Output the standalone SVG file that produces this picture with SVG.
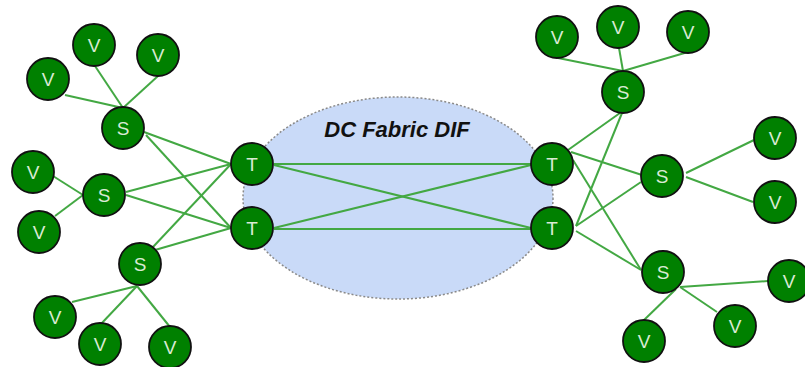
<svg xmlns="http://www.w3.org/2000/svg" width="805" height="367" viewBox="0 0 805 367">
  <style>
    .node circle { fill: #008000; stroke: #111; stroke-width: 1.8; }
    .node text { fill: #d9ead3; font-family: "Liberation Sans", Arial, sans-serif; font-size: 19px; text-anchor: middle; dominant-baseline: central; }
    #links line { stroke: #43a843; stroke-width: 2; }
    .dif { fill: #c9daf8; stroke: #8a8a8a; stroke-width: 1.5; stroke-dasharray: 2 2; }
    .dif-label { font-family: "Liberation Sans", Arial, sans-serif; font-size: 22px; font-weight: bold; font-style: italic; fill: #111; text-anchor: middle; }
  </style>
  <rect width="805" height="367" fill="#ffffff"/>

  <g id="dc-fabric-dif">
    <ellipse class="dif" cx="398" cy="198" rx="155" ry="101"/>
    <text class="dif-label" x="397" y="137">DC Fabric DIF</text>
  </g>

  <g id="links">
    <!-- left servers to VMs -->
    <line x1="65" y1="95" x2="123" y2="108"/>
    <line x1="95" y1="66" x2="123" y2="108"/>
    <line x1="158" y1="76" x2="123" y2="108"/>
    <line x1="53" y1="176" x2="83" y2="195"/>
    <line x1="55" y1="216" x2="83" y2="195"/>
    <line x1="72" y1="302" x2="137" y2="286"/>
    <line x1="100" y1="325" x2="137" y2="286"/>
    <line x1="170" y1="327" x2="137" y2="286"/>
    <!-- left servers to ToRs -->
    <line x1="144" y1="132" x2="231" y2="164"/>
    <line x1="146" y1="135" x2="231" y2="228"/>
    <line x1="126" y1="192" x2="231" y2="164"/>
    <line x1="126" y1="195" x2="231" y2="228"/>
    <line x1="155" y1="250" x2="231" y2="228"/>
    <line x1="153" y1="247" x2="231" y2="164"/>
    <!-- fabric -->
    <line x1="274" y1="164" x2="531" y2="164"/>
    <line x1="274" y1="165" x2="531" y2="228"/>
    <line x1="274" y1="228" x2="531" y2="165"/>
    <line x1="274" y1="229" x2="531" y2="229"/>
    <!-- right ToRs to servers -->
    <line x1="620" y1="113" x2="568" y2="150"/>
    <line x1="622" y1="113" x2="576" y2="226"/>
    <line x1="571" y1="152" x2="642" y2="175"/>
    <line x1="573" y1="160" x2="641" y2="270"/>
    <line x1="576" y1="226" x2="641" y2="182"/>
    <line x1="576" y1="231" x2="641" y2="270"/>
    <!-- right servers to VMs -->
    <line x1="558" y1="58" x2="623" y2="71"/>
    <line x1="619" y1="48" x2="623" y2="71"/>
    <line x1="688" y1="52" x2="623" y2="71"/>
    <line x1="686" y1="173" x2="754" y2="140"/>
    <line x1="686" y1="177" x2="753" y2="202"/>
    <line x1="680" y1="287" x2="768" y2="281"/>
    <line x1="680" y1="287" x2="717" y2="312"/>
    <line x1="676" y1="289" x2="643" y2="321"/>
  </g>

  <g id="tor-l1" class="node"><circle cx="252" cy="164" r="21"/><text x="252" y="164">T</text></g>
  <g id="tor-l2" class="node"><circle cx="252" cy="228" r="21"/><text x="252" y="228">T</text></g>
  <g id="tor-r1" class="node"><circle cx="552" cy="164" r="21"/><text x="552" y="164">T</text></g>
  <g id="tor-r2" class="node"><circle cx="552" cy="228" r="21"/><text x="552" y="228">T</text></g>

  <g id="srv-l1" class="node"><circle cx="123" cy="128" r="21"/><text x="123" y="128">S</text></g>
  <g id="srv-l2" class="node"><circle cx="104" cy="195" r="21"/><text x="104" y="195">S</text></g>
  <g id="srv-l3" class="node"><circle cx="140" cy="264" r="21"/><text x="140" y="264">S</text></g>
  <g id="srv-r1" class="node"><circle cx="623" cy="92" r="21"/><text x="623" y="92">S</text></g>
  <g id="srv-r2" class="node"><circle cx="662" cy="176" r="21"/><text x="662" y="176">S</text></g>
  <g id="srv-r3" class="node"><circle cx="663" cy="272" r="21"/><text x="663" y="272">S</text></g>

  <g id="vm-1" class="node"><circle cx="48" cy="79" r="21"/><text x="48" y="79">V</text></g>
  <g id="vm-2" class="node"><circle cx="94" cy="45" r="21"/><text x="94" y="45">V</text></g>
  <g id="vm-3" class="node"><circle cx="158" cy="55" r="21"/><text x="158" y="55">V</text></g>
  <g id="vm-4" class="node"><circle cx="33" cy="172" r="21"/><text x="33" y="172">V</text></g>
  <g id="vm-5" class="node"><circle cx="39" cy="232" r="21"/><text x="39" y="232">V</text></g>
  <g id="vm-6" class="node"><circle cx="55" cy="317" r="21"/><text x="55" y="317">V</text></g>
  <g id="vm-7" class="node"><circle cx="100" cy="344" r="21"/><text x="100" y="344">V</text></g>
  <g id="vm-8" class="node"><circle cx="170" cy="347" r="21"/><text x="170" y="347">V</text></g>
  <g id="vm-9" class="node"><circle cx="557" cy="37" r="21"/><text x="557" y="37">V</text></g>
  <g id="vm-10" class="node"><circle cx="618" cy="27" r="21"/><text x="618" y="27">V</text></g>
  <g id="vm-11" class="node"><circle cx="688" cy="32" r="21"/><text x="688" y="32">V</text></g>
  <g id="vm-12" class="node"><circle cx="775" cy="138" r="21"/><text x="775" y="138">V</text></g>
  <g id="vm-13" class="node"><circle cx="775" cy="202" r="21"/><text x="775" y="202">V</text></g>
  <g id="vm-14" class="node"><circle cx="789" cy="281" r="21"/><text x="789" y="281">V</text></g>
  <g id="vm-15" class="node"><circle cx="735" cy="326" r="21"/><text x="735" y="326">V</text></g>
  <g id="vm-16" class="node"><circle cx="644" cy="341" r="21"/><text x="644" y="341">V</text></g>
</svg>
